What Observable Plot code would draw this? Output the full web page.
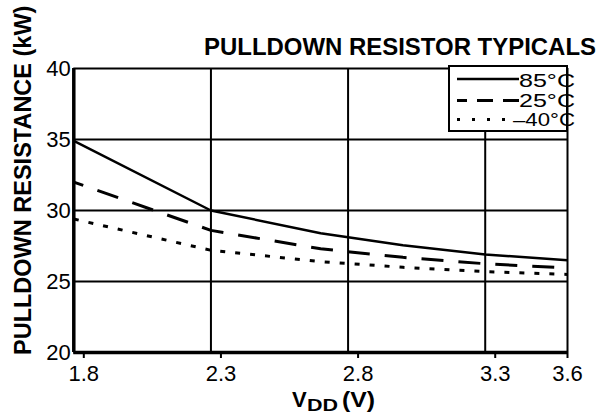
<!DOCTYPE html>
<html><head><meta charset="utf-8">
<script src="https://cdn.jsdelivr.net/npm/d3@7"></script>
<script src="https://cdn.jsdelivr.net/npm/@observablehq/plot@0.6"></script>
<style>body{margin:0;background:#fff}</style>
</head><body><div id="chart"></div>
<script>
// ---- data ----
const vdd  = [1.8, 2.3, 2.7, 3.0, 3.3, 3.6];
const r85  = [34.9, 30.0, 28.4, 27.55, 26.9, 26.5];
const r25  = [32.0, 28.6, 27.3, 26.7, 26.25, 25.95];
const rm40 = [29.4, 27.2, 26.4, 26.0, 25.7, 25.5];
const seriesNames = ["85°C", "25°C", "–40°C"];
const xTicks = [1.8, 2.3, 2.8, 3.3, 3.6];
const yTicks = [20, 25, 30, 35, 40];
const title = "PULLDOWN RESISTOR TYPICALS";
const yLabel = "PULLDOWN RESISTANCE (kW)";

const seriesValues = [r85, r25, rm40];
const rows = seriesNames.flatMap((s, i) => vdd.map((v, j) => ({v, r: seriesValues[i][j], s})));

const FONT = "'Liberation Sans', Arial, Helvetica, sans-serif";
const dashes = {"85°C": null, "25°C": "22,15", "–40°C": "5,10"};
const offsets = {"85°C": 0, "25°C": 12, "–40°C": 0};
const widths = {"85°C": 2.5, "25°C": 3, "–40°C": 3};

const plot = Plot.plot({
  width: 608, height: 414,
  marginLeft: 73.3, marginRight: 41, marginTop: 68, marginBottom: 62,
  style: {fontFamily: FONT, color: "black", background: "white", overflow: "visible"},
  x: {domain: [1.8, 3.6], label: null},
  y: {domain: [20, 40], label: null},
  marks: [
    Plot.ruleX(xTicks, {stroke: "black", strokeWidth: 2}),
    Plot.ruleY(yTicks, {stroke: "black", strokeWidth: 2}),
    Plot.ruleX([xTicks[0]], {stroke: "black", strokeWidth: 3.5}),
    Plot.ruleY([yTicks[0]], {stroke: "black", strokeWidth: 3.5}),
    ...seriesNames.map(s => Plot.line(rows.filter(d => d.s === s), {
      x: "v", y: "r", stroke: "black", strokeWidth: widths[s],
      strokeDasharray: dashes[s], strokeDashoffset: offsets[s],
      strokeLinecap: "butt", strokeLinejoin: "round"
    })),
    Plot.axisX(xTicks.slice(0, 4), {tickSize: 6, tickPadding: 7, strokeWidth: 2, fontSize: 22, dx: 10, tickFormat: d => d.toFixed(1), label: null}),
    Plot.axisX([xTicks[4]], {tickSize: 6, tickPadding: 7, strokeWidth: 2, fontSize: 22, dx: 0, tickFormat: d => d.toFixed(1), label: null}),
    Plot.axisY(yTicks, {tickSize: 0, tickPadding: 3, fontSize: 22, tickFormat: d => String(d), label: null})
  ]
});

const svg = d3.select(plot);
svg.attr("font-family", FONT);

// title
svg.append("text").attr("x", 596).attr("y", 55).attr("text-anchor", "end")
  .attr("font-weight", "bold").attr("font-size", 23).attr("textLength", 392)
  .attr("lengthAdjust", "spacingAndGlyphs").attr("fill", "black").text(title);

// y axis label
svg.append("text").attr("transform", "translate(30.5,355) rotate(-90)")
  .attr("text-anchor", "start").attr("font-weight", "bold").attr("font-size", 23.5)
  .attr("fill", "black").text(yLabel);

// x axis label V_DD (V)
const xl = svg.append("g").attr("font-weight", "bold").attr("fill", "black").attr("text-anchor", "start");
xl.append("text").attr("x", 292).attr("y", 406.5).attr("font-size", 22).text("V");
xl.append("text").attr("x", 307).attr("y", 411).attr("font-size", 16).attr("textLength", 31).attr("lengthAdjust", "spacingAndGlyphs").text("DD");
xl.append("text").attr("x", 342).attr("y", 406.5).attr("font-size", 22).attr("textLength", 33).attr("lengthAdjust", "spacingAndGlyphs").text("(V)");

// legend
const lg = svg.append("g").attr("text-anchor", "start");
lg.append("rect").attr("x", 449).attr("y", 66).attr("width", 118).attr("height", 65)
  .attr("fill", "white").attr("stroke", "none");
const legendY = [79, 100.5, 119.5];
const textY = [87, 106.5, 126];
const legDash = {"85°C": null, "25°C": "16,10", "–40°C": "3,12"};
const legOff = {"85°C": 0, "25°C": 6, "–40°C": 0};
const legStart = {"85°C": 519, "25°C": 519, "–40°C": 513};
seriesNames.forEach((s, i) => {
  lg.append("line").attr("x1", 457).attr("x2", legStart[s]).attr("y1", legendY[i]).attr("y2", legendY[i])
    .attr("stroke", "black").attr("stroke-width", s === "85°C" ? 2.5 : 3)
    .attr("stroke-dasharray", legDash[s]).attr("stroke-dashoffset", legOff[s]);
  lg.append("text").attr("x", legStart[s]).attr("y", textY[i]).attr("font-size", 18.5)
    .attr("textLength", 575 - legStart[s]).attr("lengthAdjust", "spacingAndGlyphs")
    .attr("fill", "black").text(s);
});
lg.append("rect").attr("x", 449).attr("y", 66).attr("width", 118).attr("height", 65)
  .attr("fill", "none").attr("stroke", "black").attr("stroke-width", 2);

document.getElementById("chart").appendChild(plot);
</script>
</body></html>
